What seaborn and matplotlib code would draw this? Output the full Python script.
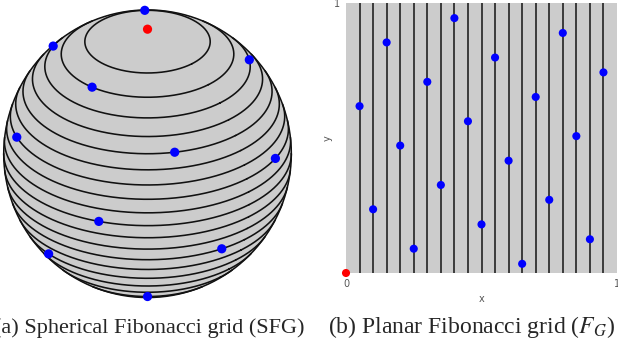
import numpy as np
import matplotlib
matplotlib.use("Agg")
import matplotlib.pyplot as plt
import seaborn as sns

# ---- data: planar Fibonacci grid, N = 20 ----
px = [0.00, 0.05, 0.10, 0.15, 0.20, 0.25, 0.30, 0.35, 0.40, 0.45,
      0.50, 0.55, 0.60, 0.65, 0.70, 0.75, 0.80, 0.85, 0.90, 0.95]
py = [0.000, 0.618, 0.236, 0.854, 0.472, 0.090, 0.708, 0.326, 0.944, 0.562,
      0.180, 0.798, 0.416, 0.034, 0.652, 0.271, 0.889, 0.507, 0.125, 0.743]
grid_lines = px[1:]
x_ticks = [0, 1]
y_ticks = [1]
cap_a = "(a) Spherical Fibonacci grid (SFG)"
cap_b = r"(b) Planar Fibonacci grid ($F_G$)"

sns.set_style("white")
plt.rcParams["font.family"] = ["DejaVu Sans"]
plt.rcParams["mathtext.fontset"] = "stix"

W, H = 618, 352
fig = plt.figure(figsize=(W / 100, H / 100), dpi=100)

# ---------------- (a) sphere ----------------
ELEV, AZIM = 30, 45
ax3 = fig.add_axes([(-12 - 5.5) / W, (35 - 3) / H, 0.52, 0.92], projection="3d")
ax3.set_proj_type("ortho")
ax3.view_init(elev=ELEV, azim=AZIM)
ax3.computed_zorder = False
e = np.deg2rad(ELEV)
a = np.deg2rad(AZIM)
view = np.array([np.cos(e) * np.cos(a), np.cos(e) * np.sin(a), np.sin(e)])
right = np.array([-np.sin(a), np.cos(a), 0.0])
up = np.array([-np.sin(e) * np.cos(a), -np.sin(e) * np.sin(a), np.cos(e)])

tt = np.linspace(0, np.pi, 80)
pp = np.linspace(0, 2 * np.pi, 160)
T, P = np.meshgrid(tt, pp)
ax3.plot_surface(np.sin(T) * np.cos(P), np.sin(T) * np.sin(P), np.cos(T),
                 color="#cccccc", shade=False, linewidth=0.3,
                 edgecolor="#cccccc", antialiased=True, zorder=1)

phi = np.linspace(0, 2 * np.pi, 1441)
for xv in grid_lines:
    z = 1 - 2 * xv
    r = np.sqrt(max(1 - z * z, 0))
    X = r * np.sin(phi)
    Y = r * np.cos(phi)
    Z = np.full_like(phi, z)
    depth = X * view[0] + Y * view[1] + Z * view[2]
    X = np.where(depth >= 0, X, np.nan)
    ax3.plot(X, Y, Z, color="#111111", lw=1.15, zorder=2)

s_t = np.linspace(0, 2 * np.pi, 721)
S = np.outer(np.cos(s_t), right) + np.outer(np.sin(s_t), up)
ax3.plot(S[:, 0], S[:, 1], S[:, 2], color="#111111", lw=1.1, zorder=3)

sx, sy, sz, sd = [], [], [], []
for xv, yv in zip(px, py):
    z = 1 - 2 * xv
    r = np.sqrt(max(1 - z * z, 0))
    X = r * np.sin(2 * np.pi * yv)
    Y = r * np.cos(2 * np.pi * yv)
    sx.append(X); sy.append(Y); sz.append(z)
    sd.append(X * view[0] + Y * view[1] + z * view[2])
sx, sy, sz, sd = map(np.array, (sx, sy, sz, sd))
vis = sd > -0.15
vis[0] = False
ax3.scatter(sx[vis], sy[vis], sz[vis], c="#0000ff", s=44, depthshade=False,
            edgecolors="none", zorder=4)
ax3.scatter(sx[:1], sy[:1], sz[:1], c="#ff0000", s=44, depthshade=False,
            edgecolors="none", zorder=4)
ax3.set_xlim(-1, 1); ax3.set_ylim(-1, 1); ax3.set_zlim(-1, 1)
ax3.set_box_aspect((1, 1, 1), zoom=1.505)
ax3.set_axis_off()

# ---------------- (b) planar grid ----------------
ax = fig.add_axes([346 / W, 79 / H, 271 / W, 270 / H])
ax.set_facecolor("#cccccc")
for xv in grid_lines:
    ax.axvline(xv, color="#222222", lw=1.2, zorder=1)
sns.scatterplot(x=px[1:], y=py[1:], color="#0000ff", s=34, edgecolor="none",
                ax=ax, zorder=3)
sns.scatterplot(x=px[:1], y=py[:1], color="#ff0000", s=34, edgecolor="none",
                ax=ax, zorder=4, clip_on=False)
ax.set_xlim(0, 1)
ax.set_ylim(0, 1)
ax.set_xticks(x_ticks)
ax.set_yticks(y_ticks)
ax.tick_params(length=0, labelsize=7, colors="#555555", pad=4)
ax.set_xlabel("x", fontsize=7, color="#555555", labelpad=4)
ax.set_ylabel("y", fontsize=7, color="#555555", labelpad=1)
for sp in ax.spines.values():
    sp.set_visible(False)

# ---------------- captions ----------------
tb = fig.text(615 / W, 19 / H, cap_b, ha="right", va="baseline",
              family=["Liberation Serif"], fontsize=14)
ta = fig.text(305 / W, 19 / H, cap_a, ha="right", va="baseline",
              family=["Liberation Serif"], fontsize=14)
renderer = fig.canvas.get_renderer()
wb = tb.get_window_extent(renderer).width
tb.set_fontsize(14 * 288 / wb)
wa = ta.get_window_extent(renderer).width
ta.set_fontsize(14 * 312 / wa)

fig.savefig("out.png", dpi=100)
